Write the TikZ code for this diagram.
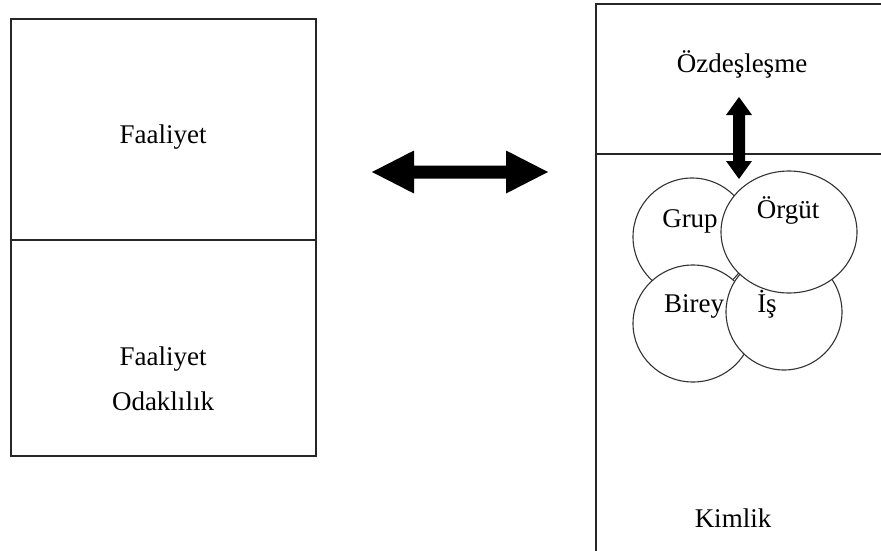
\documentclass[tikz,border=0pt]{standalone}
\usepackage{fontspec}
\setmainfont{Liberation Serif}
\usetikzlibrary{calc}
\begin{document}
\begin{tikzpicture}[x=1pt,y=-1pt,
  panel/.style={draw=black!85,line width=1.4pt},
  ring/.style={draw=black!80,line width=1.1pt,fill=white},
  lbl/.style={anchor=base,inner sep=0pt,font=\fontsize{27}{32}\selectfont},
  bigarrow/.style={fill=black}]
\useasboundingbox (0,0) rectangle (881,551);
\begin{scope}
\clip (0,0) rectangle (881,551);
% left column: activity panel
\draw[panel] (11,19) rectangle (316,456);
\draw[panel] (11,240) -- (316,240);
\node[lbl] (faal) at (163,143) {Faaliyet};
\node[lbl] (faal2) at (163,365) {Faaliyet};
\node[lbl] (odak) at (163,410) {Odaklılık};
% right column: identity panel
\draw[panel] (596,4) rectangle (900,570);
\draw[panel] (596,154) -- (900,154);
\node[lbl] (ozd) at (742,73) {Özdeşleşme};
\node[lbl] (kim) at (733,527) {Kimlik};
% overlapping identity circles
\draw[ring] (692,237) ellipse [x radius=59,y radius=59];
\node[lbl] (grup) at (690,227) {Grup};
\draw[ring] (693,323.5) ellipse [x radius=60,y radius=58.5];
\node[lbl] (birey) at (694,312) {Birey};
\draw[ring] (784,312) ellipse [x radius=58,y radius=58];
\node[lbl] (is) at (767,312) {İş};
\draw[ring] (789,232) ellipse [x radius=68,y radius=61];
\node[lbl] (orgut) at (788,218) {Örgüt};
% double-headed block arrows
\coordinate (hl) at (372,172);
\coordinate (hr) at (548,172);
\fill[bigarrow] (hl) -- ++(42,-21.5) -- ++(0,15) -- ($(hr)+(-42,-6.5)$) -- ++(0,-15) -- (hr)
  -- ++(-42,21.5) -- ++(0,-15) -- ($(hl)+(42,6.5)$) -- ++(0,15) -- cycle;
\coordinate (vt) at (739,97);
\coordinate (vb) at (739,179);
\fill[bigarrow] (vt) -- ++(13,18) -- ++(-7,0) -- ($(vb)+(6,-18)$) -- ++(7,0) -- (vb)
  -- ++(-13,-18) -- ++(7,0) -- ($(vt)+(-6,18)$) -- ++(-7,0) -- cycle;
\end{scope}
\end{tikzpicture}
\end{document}
